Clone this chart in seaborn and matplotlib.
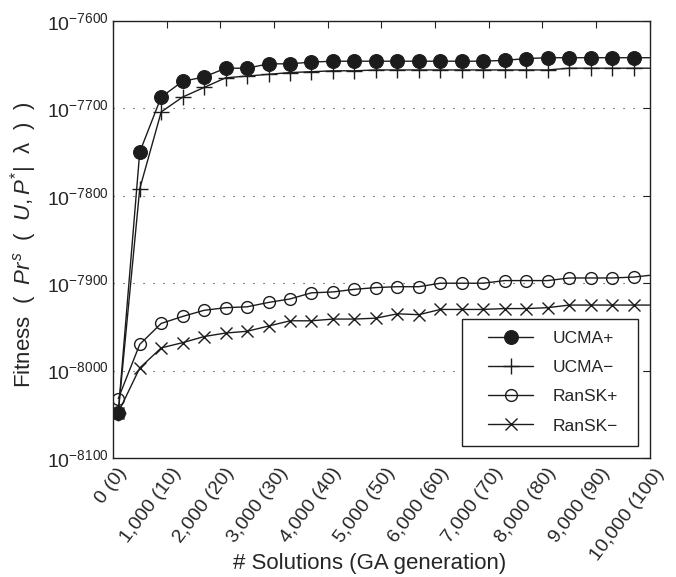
import numpy as np
import pandas as pd
import matplotlib
matplotlib.use("Agg")
import matplotlib.pyplot as plt
import matplotlib.transforms as mtransforms
from matplotlib.lines import Line2D
from matplotlib.ticker import FixedLocator, FuncFormatter
import seaborn as sns

# Number of evaluated solutions (100 solutions per GA generation)
solutions = [100, 500, 900, 1300, 1700, 2100, 2500, 2900, 3300, 3700, 4100, 4500, 4900,
             5300, 5700, 6100, 6500, 6900, 7300, 7700, 8100, 8500, 8900, 9300, 9700, 10000]

# log10 of the best fitness found so far
ucma_plus = [-8048, -7750, -7687, -7669, -7664, -7654, -7654, -7649, -7649, -7647, -7646, -7646, -7646,
             -7646, -7646, -7646, -7646, -7646, -7645, -7643, -7642, -7642, -7642, -7642, -7642, -7642]
ucma_minus = [-8048, -7792, -7704, -7687, -7676, -7665, -7663, -7661, -7659, -7658, -7657, -7657, -7656,
              -7656, -7656, -7656, -7656, -7656, -7656, -7656, -7656, -7654, -7654, -7654, -7654, -7654]
ransk_plus = [-8032, -7970, -7946, -7938, -7931, -7928, -7927, -7922, -7918, -7911, -7910, -7907, -7905,
              -7904, -7904, -7900, -7900, -7900, -7897, -7897, -7897, -7894, -7894, -7894, -7893, -7891]
ransk_minus = [-8048, -7997, -7974, -7968, -7961, -7957, -7955, -7949, -7943, -7943, -7941, -7941, -7940,
               -7935, -7936, -7930, -7930, -7930, -7929, -7929, -7928, -7925, -7925, -7925, -7925, -7925]

series_names = ["UCMA+", "UCMA\u2212", "RanSK+", "RanSK\u2212"]
series_values = [ucma_plus, ucma_minus, ransk_plus, ransk_minus]

x_ticks = [0, 1000, 2000, 3000, 4000, 5000, 6000, 7000, 8000, 9000, 10000]
x_tick_labels = ["0 (0)", "1,000 (10)", "2,000 (20)", "3,000 (30)", "4,000 (40)", "5,000 (50)",
                 "6,000 (60)", "7,000 (70)", "8,000 (80)", "9,000 (90)", "10,000 (100)"]
y_ticks = [-8100, -8000, -7900, -7800, -7700, -7600]

sns.set_theme(style="white")
plt.rcParams["font.family"] = ["Liberation Sans", "DejaVu Sans"]
plt.rcParams["mathtext.fontset"] = "custom"
plt.rcParams["mathtext.rm"] = "Liberation Sans"
plt.rcParams["mathtext.it"] = "Liberation Sans:italic"
plt.rcParams["mathtext.default"] = "regular"

ink = "#1c1c1c"
styles = [
    dict(marker="o", markersize=10, markerfacecolor=ink, markeredgecolor=ink),
    dict(marker="+", markersize=11, markeredgewidth=1.0, markeredgecolor=ink),
    dict(marker="o", markersize=8.5, markerfacecolor="none", markeredgecolor=ink, markeredgewidth=1.0),
    dict(marker="x", markersize=9, markeredgewidth=1.0, markeredgecolor=ink),
]

rows = []
for name, vals in zip(series_names, series_values):
    for s, v in zip(solutions, vals):
        rows.append({"solutions": s, "fitness": v, "method": name})
df = pd.DataFrame(rows)

fig = plt.figure(figsize=(6.76, 5.77), dpi=100)
ax = fig.add_axes([0.167, 0.2062, 0.794, 0.7574])

n_marked = len(solutions) - 1
for name, st in zip(series_names, styles):
    sub = df[df["method"] == name]
    sns.lineplot(data=sub, x="solutions", y="fitness", ax=ax, color=ink, linewidth=1.0,
                 label=name, markevery=list(range(n_marked)), **st)

ax.set_xlim(0, 10000)
ax.set_ylim(-8100, -7600)
ax.xaxis.set_major_locator(FixedLocator(x_ticks))
ax.set_xticklabels(x_tick_labels, rotation=53, ha="right", va="top",
                   rotation_mode="anchor", fontsize=14)
ax.yaxis.set_major_locator(FixedLocator(y_ticks))
ax.yaxis.set_major_formatter(FuncFormatter(lambda v, p: r"$10^{%d}$" % v))

ax.tick_params(axis="both", direction="in", length=5, width=0.8, color="#222222",
               top=True, right=True)
ax.tick_params(axis="x", pad=5, labelsize=14)
ax.tick_params(axis="y", pad=3, labelsize=14)
shift = mtransforms.ScaledTranslation(0.04, 0, fig.dpi_scale_trans)
for lab in ax.get_xticklabels():
    lab.set_transform(lab.get_transform() + shift)

for sp in ax.spines.values():
    sp.set_color("#222222")
    sp.set_linewidth(1.0)

ax.yaxis.grid(True, linestyle=(0, (1, 8)), color="#333333", linewidth=0.8)
ax.xaxis.grid(False)

ax.set_xlabel("# Solutions (GA generation)", fontsize=16)
ax.xaxis.set_label_coords(0.479, -0.218)
ax.set_ylabel(r"Fitness  (  $\mathit{Pr}^{\mathit{s}}$  (  $\mathit{U,P}^{*}$|  $\lambda$  )  )",
              fontsize=16)
ax.yaxis.set_label_coords(-0.138, 0.487)

leg = ax.legend(loc="lower left", bbox_to_anchor=(0.650, 0.0275, 0.328, 0.295), mode="expand",
                borderaxespad=0, fontsize=12.5, frameon=True, fancybox=False, edgecolor="#222222",
                handlelength=2.6, labelspacing=0.8, borderpad=0.72, handletextpad=1.9)
leg.get_frame().set_linewidth(1.0)
leg.get_frame().set_facecolor("white")
leg.get_frame().set_alpha(1.0)

# move the legend sample lines a little to the right inside the frame
handle_shift = mtransforms.ScaledTranslation(0.14, 0, fig.dpi_scale_trans)
for ln in leg.findobj(Line2D):
    ln.set_transform(ln.get_transform() + handle_shift)

fig.savefig("out.png", dpi=100)
